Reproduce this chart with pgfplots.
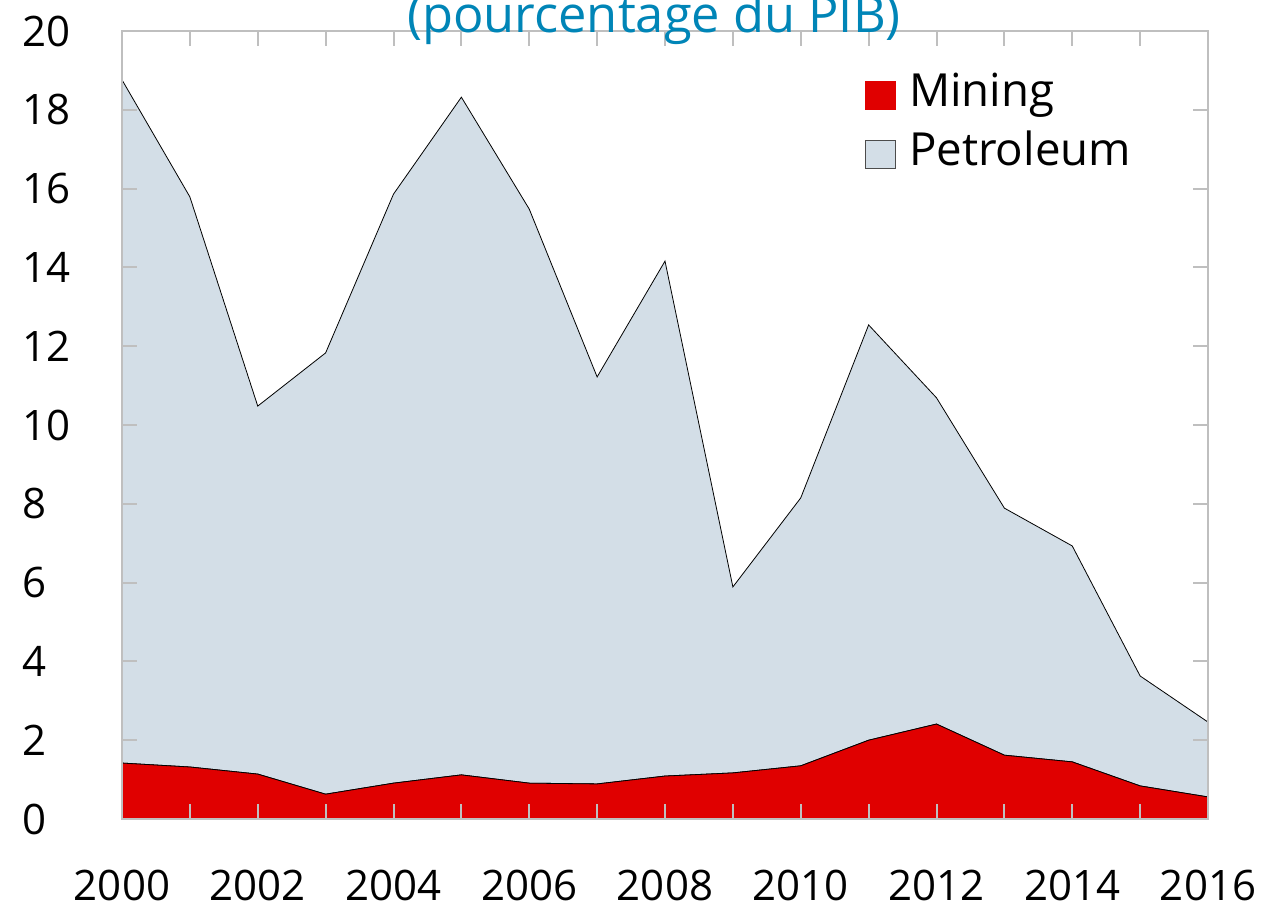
\documentclass[border=0pt]{standalone}
\usepackage{pgfplots}
\pgfplotsset{compat=1.18}
\usepackage{fontspec}
\setmainfont{Open Sans}
\definecolor{mred}{RGB}{224,0,0}
\definecolor{pgray}{RGB}{211,222,231}
\definecolor{tblue}{RGB}{0,133,183}
\definecolor{fgray}{RGB}{191,191,191}
\begin{document}
\begin{tikzpicture}
\begin{axis}[
  name=ax,
  scale only axis, width=543pt, height=394pt,
  xmin=2000, xmax=2016, ymin=0, ymax=20,
  stack plots=y,
  axis on top,
  axis line style={fgray, line width=1pt},
  tick style={fgray, line width=1pt},
  tick align=inside,
  major tick length=7.5pt, minor tick length=7.5pt,
  xtick={2000,2002,...,2016},
  minor xtick={2001,2003,...,2015},
  ytick={0,2,...,20},
  /pgf/number format/1000 sep={},
  /pgf/number format/assume math mode=true,
  ticklabel style={font=\fontsize{21}{25}\selectfont, text=black},
  yticklabel style={anchor=west, inner sep=0pt, xshift=-50pt},
  xticklabel style={anchor=north, inner sep=0pt, yshift=-25.5pt},
  legend image code/.code={\draw[#1] (0pt,-7pt) rectangle (15pt,7pt);\path[draw=none,fill=none] (0pt,0pt) -- (18pt,0pt);},
  legend style={at={(0.684,0.95)}, anchor=north west, draw=none, fill=none,
    inner sep=0pt, row sep=4.5pt,
    font=\fontsize{22.8}{27}\selectfont,
    nodes={inner xsep=3.75pt, inner ysep=2pt, text height=16pt, text depth=5pt}},
  legend cell align=left,
]
\addplot[fill=mred, draw=black, line width=0.4pt, forget plot] table {
x y
2000 1.42
2001 1.32
2002 1.14
2003 0.63
2004 0.91
2005 1.12
2006 0.91
2007 0.89
2008 1.09
2009 1.17
2010 1.35
2011 2.00
2012 2.41
2013 1.62
2014 1.45
2015 0.84
2016 0.56
} \closedcycle;
\addplot[fill=pgray, draw=black, line width=0.4pt, forget plot] table {
x y
2000 17.34
2001 14.47
2002 9.34
2003 11.20
2004 14.95
2005 17.20
2006 14.57
2007 10.33
2008 13.07
2009 4.72
2010 6.80
2011 10.54
2012 8.28
2013 6.27
2014 5.48
2015 2.79
2016 1.90
} \closedcycle;
\addlegendimage{fill=mred, draw=mred}
\addlegendentry{Mining}
\addlegendimage{fill=pgray, draw=black!70}
\addlegendentry{Petroleum}
\end{axis}
\node[anchor=base, text=tblue, font=\fontsize{25.3}{30}\selectfont, inner sep=0pt]
  at ([xshift=-5.5pt,yshift=-1pt]ax.north) {(pourcentage du PIB)};
\pgfresetboundingbox
\path ([xshift=-61pt,yshift=-48pt]ax.south west) rectangle ([xshift=29.5pt,yshift=15.5pt]ax.north east);
\end{tikzpicture}
\end{document}
